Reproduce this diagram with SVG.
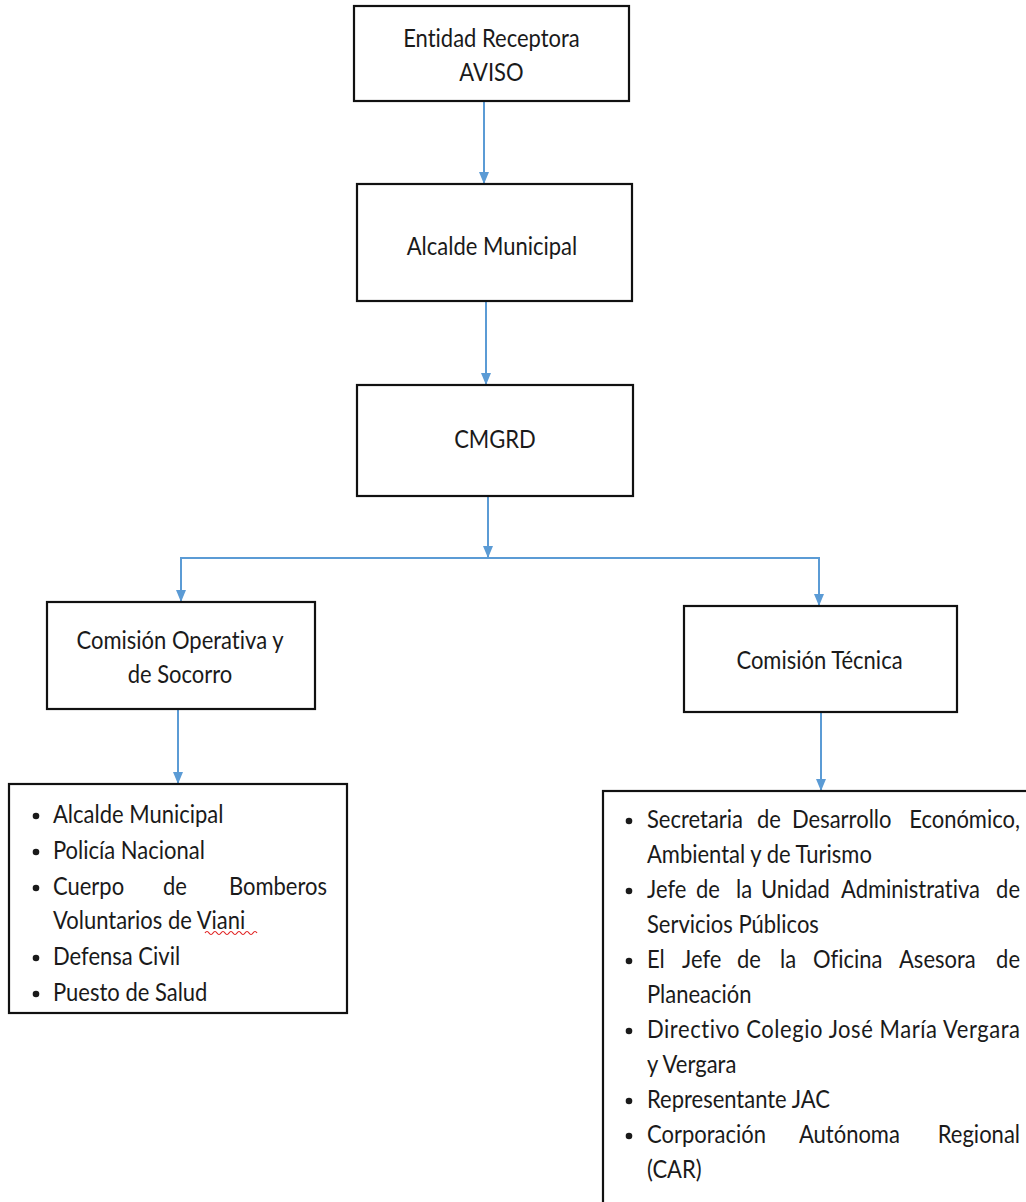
<svg xmlns="http://www.w3.org/2000/svg" width="1026" height="1202" viewBox="0 0 1026 1202">
<style>
.box{fill:#fff;stroke:#111;stroke-width:2.2}
.t{font-family:Lato,"Open Sans","Liberation Sans",sans-serif;font-size:22px;fill:#1a1a1a;font-variant-ligatures:none}
.c{text-anchor:middle}
.con{stroke:#5B9BD5;stroke-width:2;fill:none}
.bul{fill:#1a1a1a}
</style>
<defs>
<marker id="ah" viewBox="0 0 12 10" refX="12" refY="5" markerWidth="12" markerHeight="10" markerUnits="userSpaceOnUse" orient="auto">
<path d="M0,0 L12,5 L0,10 z" fill="#5B9BD5"/>
</marker>
</defs>
<rect width="1026" height="1202" fill="#fff"/>
<g id="connectors">
<line class="con" x1="484" y1="101" x2="484" y2="184" marker-end="url(#ah)"/>
<line class="con" x1="486" y1="301" x2="486" y2="385" marker-end="url(#ah)"/>
<line class="con" x1="488" y1="496" x2="488" y2="558" marker-end="url(#ah)"/>
<line class="con" x1="181" y1="558" x2="819" y2="558"/>
<line class="con" x1="181" y1="557" x2="181" y2="602" marker-end="url(#ah)"/>
<line class="con" x1="819" y1="557" x2="819" y2="606" marker-end="url(#ah)"/>
<line class="con" x1="178" y1="709" x2="178" y2="784" marker-end="url(#ah)"/>
<line class="con" x1="821" y1="712" x2="821" y2="791" marker-end="url(#ah)"/>
</g>
<g id="n-entidad">
<rect class="box" x="354" y="6" width="275" height="95"/>
<text class="t c" x="491.5" transform="translate(0,47) scale(1,1.15)">Entidad Receptora</text>
<text class="t c" x="491.5" transform="translate(0,81) scale(1,1.15)">AVISO</text>
</g>
<g id="n-alcalde">
<rect class="box" x="357" y="184" width="275" height="117"/>
<text class="t c" x="492" transform="translate(0,255) scale(1,1.15)">Alcalde Municipal</text>
</g>
<g id="n-cmgrd">
<rect class="box" x="357" y="385" width="276" height="111"/>
<text class="t c" x="495" transform="translate(0,448) scale(1,1.15)">CMGRD</text>
</g>
<g id="n-operativa">
<rect class="box" x="47" y="602" width="268" height="107"/>
<text class="t c" x="180" transform="translate(0,649) scale(1,1.15)">Comisión Operativa y</text>
<text class="t c" x="180" transform="translate(0,683) scale(1,1.15)">de Socorro</text>
</g>
<g id="n-tecnica">
<rect class="box" x="684" y="606" width="273" height="106"/>
<text class="t c" x="819.5" transform="translate(0,669) scale(1,1.15)">Comisión Técnica</text>
</g>
<g id="n-lista-operativa">
<rect class="box" x="9" y="784" width="338" height="229"/>
<circle class="bul" cx="36" cy="816" r="3.3"/>
<circle class="bul" cx="36" cy="852" r="3.3"/>
<circle class="bul" cx="36" cy="888" r="3.3"/>
<circle class="bul" cx="36" cy="958" r="3.3"/>
<circle class="bul" cx="36" cy="994" r="3.3"/>
<text class="t" x="53" transform="translate(0,823) scale(1,1.15)">Alcalde Municipal</text>
<text class="t" x="53" transform="translate(0,859) scale(1,1.15)">Policía Nacional</text>
<text class="t" transform="translate(0,895) scale(1,1.15)"><tspan x="53">Cuerpo</tspan><tspan x="163">de</tspan><tspan x="327" text-anchor="end">Bomberos</tspan></text>
<text class="t" x="53" transform="translate(0,929) scale(1,1.15)">Voluntarios de Viani</text>
<path d="M205,933 q2,-3 4,0 t4,0 t4,0 t4,0 t4,0 t4,0 t4,0 t4,0 t4,0 t4,0 t4,0 t4,0 t4,0" fill="none" stroke="#e02020" stroke-width="1.2"/>
<text class="t" x="53" transform="translate(0,965) scale(1,1.15)">Defensa Civil</text>
<text class="t" x="53" transform="translate(0,1001) scale(1,1.15)">Puesto de Salud</text>
</g>
<g id="n-lista-tecnica">
<rect class="box" x="603" y="791" width="440" height="430"/>
<circle class="bul" cx="629" cy="821" r="3.3"/>
<circle class="bul" cx="629" cy="891" r="3.3"/>
<circle class="bul" cx="629" cy="961" r="3.3"/>
<circle class="bul" cx="629" cy="1031" r="3.3"/>
<circle class="bul" cx="629" cy="1101" r="3.3"/>
<circle class="bul" cx="629" cy="1136" r="3.3"/>
<text class="t" transform="translate(0,828) scale(1,1.15)"><tspan x="647">Secretaria</tspan><tspan x="757">de</tspan><tspan x="792">Desarrollo</tspan><tspan x="1020" text-anchor="end">Económico,</tspan></text>
<text class="t" x="647" transform="translate(0,863) scale(1,1.15)">Ambiental y de Turismo</text>
<text class="t" transform="translate(0,898) scale(1,1.15)"><tspan x="647">Jefe</tspan><tspan x="696">de</tspan><tspan x="736">la</tspan><tspan x="761">Unidad</tspan><tspan x="841">Administrativa</tspan><tspan x="1020" text-anchor="end">de</tspan></text>
<text class="t" x="647" transform="translate(0,933) scale(1,1.15)">Servicios Públicos</text>
<text class="t" transform="translate(0,968) scale(1,1.15)"><tspan x="647">El</tspan><tspan x="682">Jefe</tspan><tspan x="737">de</tspan><tspan x="780">la</tspan><tspan x="813">Oficina</tspan><tspan x="899">Asesora</tspan><tspan x="1020" text-anchor="end">de</tspan></text>
<text class="t" x="647" transform="translate(0,1003) scale(1,1.15)">Planeación</text>
<text class="t" x="647" transform="translate(0,1038) scale(1,1.15)" textLength="373" lengthAdjust="spacing">Directivo Colegio José María Vergara</text>
<text class="t" x="647" transform="translate(0,1073) scale(1,1.15)">y Vergara</text>
<text class="t" x="647" transform="translate(0,1108) scale(1,1.15)">Representante JAC</text>
<text class="t" transform="translate(0,1143) scale(1,1.15)"><tspan x="647">Corporación</tspan><tspan x="799">Autónoma</tspan><tspan x="1020" text-anchor="end">Regional</tspan></text>
<text class="t" x="647" transform="translate(0,1178) scale(1,1.15)">(CAR)</text>
</g>
</svg>
